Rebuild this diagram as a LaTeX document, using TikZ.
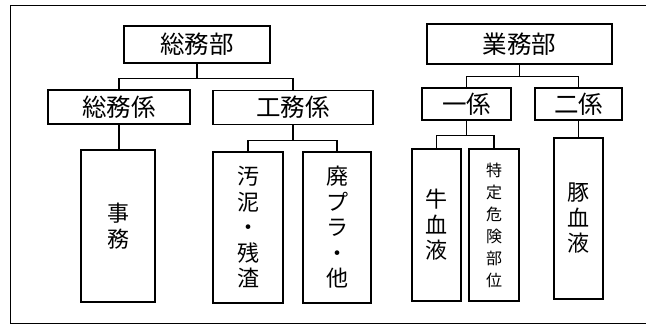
\documentclass[tikz,border=0pt]{standalone}
\usepackage{fontspec}
\setmainfont{Noto Sans CJK JP}
\usetikzlibrary{calc}

\begin{document}
\begin{tikzpicture}[x=1pt,y=-1pt,
    box/.style={draw,line width=1.1pt,inner sep=0pt,align=center},
    head/.style={box,font=\fontsize{24.5}{26}\selectfont},
    tall/.style={box,font=\fontsize{22}{25.5}\selectfont},
    link/.style={line width=1.1pt}]

  \useasboundingbox (0,0) rectangle (646,325);
  \draw[line width=1pt] (646,5) -- (10,5) -- (10,323) -- (646,323); % outer frame

  % departments
  \node[head,minimum width=146pt,minimum height=37pt] (somu)  at (197,44.5) {総務部};
  \node[head,minimum width=185pt,minimum height=40pt] (gyomu) at (519.5,44) {業務部};

  % sections
  \node[head,minimum width=142pt,minimum height=34pt] (somuk) at (119,107)   {総務係};
  \node[head,minimum width=160pt,minimum height=34pt] (komuk) at (293,107.5) {工務係};
  \node[head,minimum width=89pt,minimum height=32pt]  (ichik) at (466.5,104) {一係};
  \node[head,minimum width=87pt,minimum height=32pt]  (nik)   at (578.5,104) {二係};

  % tasks
  \node[tall,minimum width=74pt,minimum height=152pt] (jimu)  at (118,226)   {事\\務};
  \node[tall,minimum width=70pt,minimum height=151pt] (odei)  at (248,227.5) {汚\\泥\\・\\残\\渣};
  \node[tall,minimum width=68pt,minimum height=151pt] (haipu) at (337,227.5) {廃\\プ\\ラ\\・\\他};
  \node[tall,minimum width=49pt,minimum height=152pt] (gyuk)  at (436.5,225) {牛\\血\\液};
  \node[box,font=\fontsize{16}{22}\selectfont,minimum width=50pt,minimum height=152pt]
    (srm) at (494,225) {特\\定\\危\\険\\部\\位};
  \node[tall,minimum width=49pt,minimum height=161pt] (butak) at (578.5,218.5) {豚\\血\\液};

  % connectors
  \coordinate (j1) at ($(somu.south)+(0,15)$);
  \coordinate (j2) at ($(gyomu.south)+(0,12)$);
  \coordinate (j3) at ($(komuk.south)+(0,15)$);
  \coordinate (j4) at ($(ichik.south)+(0,15)$);
  \draw[link] (somu.south) -- (j1);
  \draw[link] (somuk.north) |- (j1) -| (komuk.north);
  \draw[link] (gyomu.south) -- (j2);
  \draw[link] (ichik.north) |- (j2) -| (nik.north);
  \draw[link] (somuk.south) -- (somuk.south |- jimu.north);
  \draw[link] (komuk.south) -- (j3);
  \draw[link] (odei.north) |- (j3) -| (haipu.north);
  \draw[link] (ichik.south) -- (j4);
  \draw[link] (gyuk.north) |- (j4) -| (srm.north);
  \draw[link] (nik.south) -- (nik.south |- butak.north);
\end{tikzpicture}
\end{document}
